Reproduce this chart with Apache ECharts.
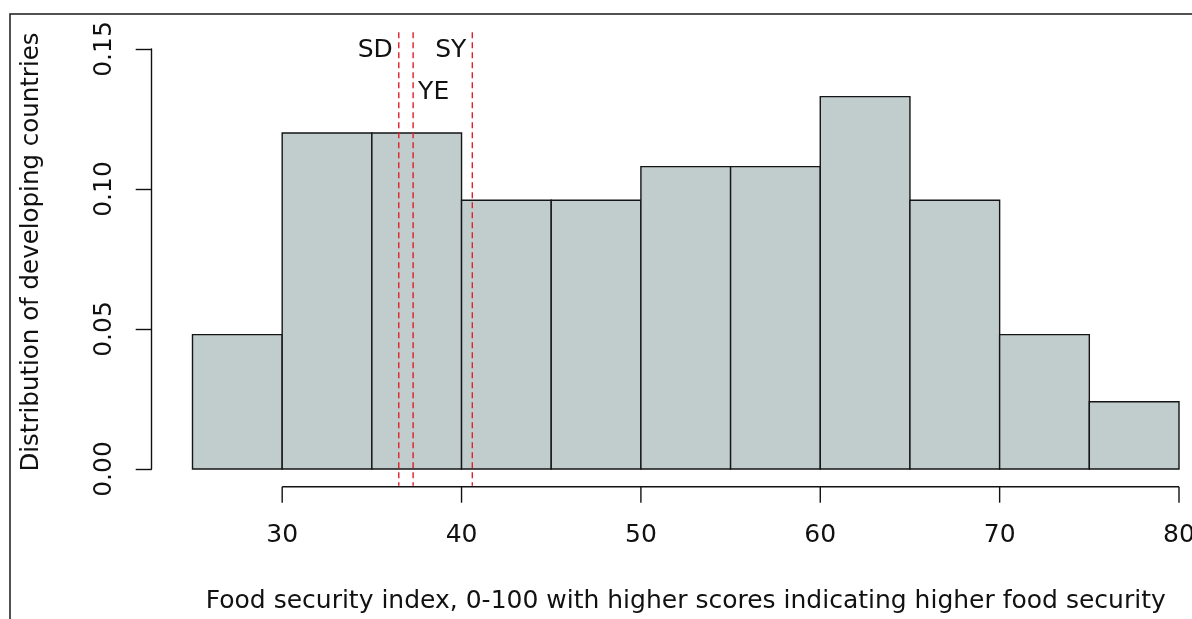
<!DOCTYPE html>
<html>
<head>
<meta charset="utf-8">
<script src="https://cdn.jsdelivr.net/npm/echarts@6/dist/echarts.min.js"></script>
<style>
html,body{margin:0;padding:0;background:#fff;}
#chart{width:1192px;height:619px;}
</style>
</head>
<body>
<div id="chart"></div>
<script>
// ---- data ----
const binEdges = [25, 30, 35, 40, 45, 50, 55, 60, 65, 70, 75, 80];
const proportions = [0.048, 0.120, 0.120, 0.096, 0.096, 0.108, 0.108, 0.133, 0.096, 0.048, 0.024];
const xTicks = [30, 40, 50, 60, 70, 80];
const yTicks = [0, 0.05, 0.10, 0.15];
const refCodes = ['SD', 'YE', 'SY'];
const refValues = [36.5, 37.3, 40.6];
const refLabelY = [0.150, 0.135, 0.150];
const refLabelSide = ['left', 'right', 'left'];
const xTitle = 'Food security index, 0-100 with higher scores indicating higher food security';
const yTitle = 'Distribution of developing countries';

const FONT = 'DejaVu Sans';
const barData = proportions.map((v, i) => [binEdges[i], binEdges[i + 1], v]);

const chart = echarts.init(document.getElementById('chart'), null, {renderer: 'canvas'});
const X_OFF = 17.7;
const TICK_LEN = 16;

chart.setOption({
  animation: false,
  backgroundColor: '#fff',
  textStyle: {fontFamily: FONT},
  grid: {left: 192.5, right: 13, top: 49, bottom: 150, containLabel: false, outerBoundsMode: 'none'},
  xAxis: {
    type: 'value', min: 25, max: 80,
    offset: X_OFF,
    axisLine: {show: false},
    axisTick: {show: false},
    axisLabel: {show: true, customValues: xTicks, margin: 36, fontSize: 25, color: '#111', fontFamily: FONT},
    splitLine: {show: false},
    name: xTitle, nameLocation: 'middle', nameGap: 102,
    nameTextStyle: {fontSize: 25, color: '#111', fontFamily: FONT}
  },
  yAxis: {
    type: 'value', min: yTicks[0], max: yTicks[yTicks.length - 1], interval: 0.05,
    offset: 40.8,
    axisLine: {show: true, lineStyle: {color: '#111', width: 1.4}},
    axisTick: {show: true, length: TICK_LEN, lineStyle: {color: '#111', width: 1.4}},
    axisLabel: {rotate: 90, margin: 35, fontSize: 25, color: '#111', fontFamily: FONT,
      formatter: v => v.toFixed(2)},
    splitLine: {show: false},
    name: yTitle, nameLocation: 'middle', nameGap: 108,
    nameTextStyle: {fontSize: 24.5, color: '#111', fontFamily: FONT, padding: [0, 0, 0, 14]}
  },
  graphic: [{
    type: 'polyline', silent: true,
    shape: {points: [[10, 619], [10, 14], [1192, 14]]},
    style: {stroke: '#1a1a1a', lineWidth: 1.5, fill: null}
  }],
  series: [
    {
      type: 'custom', name: 'hist', clip: false,
      data: barData,
      encode: {x: [0, 1], y: 2},
      renderItem: function (params, api) {
        const p0 = api.coord([api.value(0), api.value(2)]);
        const p1 = api.coord([api.value(1), 0]);
        return {
          type: 'rect',
          shape: {x: p0[0], y: p0[1], width: p1[0] - p0[0], height: p1[1] - p0[1]},
          style: {fill: '#C1CDCD', stroke: '#151515', lineWidth: 1.4}
        };
      },
      z: 2
    },
    {
      // R-style x axis: line from first to last tick, ticks pointing down
      type: 'custom', name: 'xaxis', clip: false, silent: true,
      data: [[0]],
      renderItem: function (params, api) {
        const a = api.coord([xTicks[0], 0]);
        const b = api.coord([xTicks[xTicks.length - 1], 0]);
        const y0 = a[1] + X_OFF;
        const children = [{
          type: 'line',
          shape: {x1: a[0], y1: y0, x2: b[0], y2: y0},
          style: {stroke: '#111', lineWidth: 1.4}
        }];
        xTicks.forEach(t => {
          const p = api.coord([t, 0]);
          children.push({type: 'line', shape: {x1: p[0], y1: y0, x2: p[0], y2: y0 + TICK_LEN},
            style: {stroke: '#111', lineWidth: 1.4}});
        });
        return {type: 'group', children: children};
      },
      z: 3
    },
    {
      type: 'custom', name: 'refs', clip: false, silent: true,
      data: refValues.map((v, i) => [v, refLabelY[i], i]),
      renderItem: function (params, api) {
        const x = api.value(0);
        const i = api.value(2);
        const top = api.coord([x, 0.156]);
        const bot = api.coord([x, -0.006]);
        const lab = api.coord([x, api.value(1)]);
        const left = refLabelSide[i] === 'left';
        return {
          type: 'group',
          children: [
            {type: 'line', shape: {x1: top[0], y1: top[1], x2: bot[0], y2: bot[1]},
             style: {stroke: '#e0202a', lineWidth: 1.4, lineDash: [6, 4]}},
            {type: 'text', x: lab[0] + (left ? -6 : 5), y: lab[1] + 1.5,
             style: {text: refCodes[i], fontSize: 25, fontFamily: FONT, fill: '#111',
               align: left ? 'right' : 'left', verticalAlign: 'middle'}}
          ]
        };
      },
      z: 4
    }
  ]
});
</script>
</body>
</html>
